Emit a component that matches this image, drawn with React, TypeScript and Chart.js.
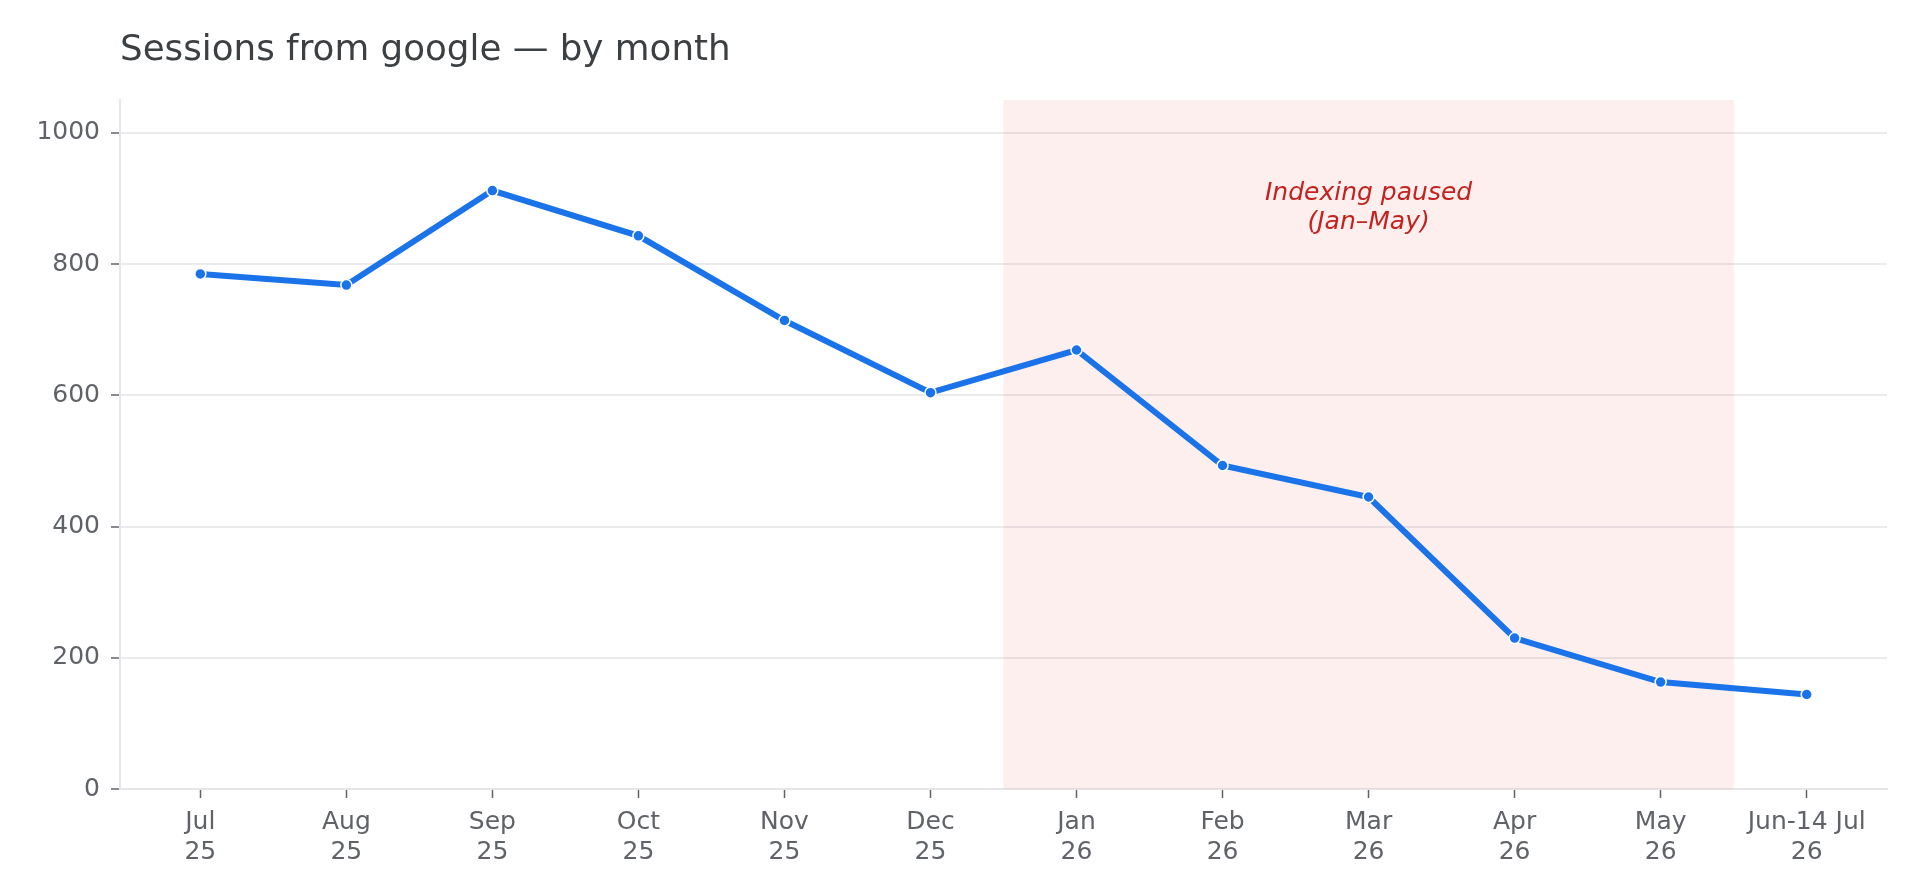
import Chart from "chart.js/auto";
import { useEffect, useRef } from "react";

const xLabels = [
  ["Jul", "25"],
  ["Aug", "25"],
  ["Sep", "25"],
  ["Oct", "25"],
  ["Nov", "25"],
  ["Dec", "25"],
  ["Jan", "26"],
  ["Feb", "26"],
  ["Mar", "26"],
  ["Apr", "26"],
  ["May", "26"],
  ["Jun-14 Jul", "26"],
];
const sessions = [785, 768, 912, 843, 714, 604, 669, 493, 445, 230, 163, 144];
const yTicks = [0, 200, 400, 600, 800, 1000];
const pausedFrom = 5.5;
const pausedTo = 10.5;
const pausedNote = ["Indexing paused", "(Jan–May)"];
const pausedNoteAt = { x: 8, y: [908, 863] };

const FONT = "'DejaVu Sans', sans-serif";

const pausedBand = {
  id: "pausedBand",
  beforeDatasetsDraw(chart: any) {
    const { ctx, chartArea, scales } = chart;
    const x0 = scales.x.getPixelForValue(pausedFrom);
    const x1 = scales.x.getPixelForValue(pausedTo);
    ctx.save();
    ctx.fillStyle = "rgba(217, 48, 37, 0.08)";
    ctx.fillRect(x0, chartArea.top, x1 - x0, chartArea.bottom - chartArea.top);
    ctx.fillStyle = "#c5221f";
    ctx.font = `italic 25px ${FONT}`;
    ctx.textAlign = "center";
    ctx.textBaseline = "middle";
    const cx = scales.x.getPixelForValue(pausedNoteAt.x);
    pausedNote.forEach((line, i) => {
      ctx.fillText(line, cx, scales.y.getPixelForValue(pausedNoteAt.y[i]));
    });
    ctx.restore();
  },
};

const titleText = {
  id: "titleText",
  afterDraw(chart: any) {
    const { ctx, chartArea } = chart;
    ctx.save();
    ctx.fillStyle = "#3c4043";
    ctx.font = `35.7px ${FONT}`;
    ctx.textAlign = "left";
    ctx.textBaseline = "alphabetic";
    ctx.fillText("Sessions from google — by month", chartArea.left, 60);
    ctx.restore();
  },
};

export default function App() {
  const chartRef = useRef<HTMLCanvasElement>(null);

  useEffect(() => {
    document.body.style.margin = "0";
    document.body.style.overflow = "hidden";

    const chart = new Chart(chartRef.current!, {
      type: "line",
      data: {
        datasets: [
          {
            label: "Sessions",
            data: sessions.map((v, i) => ({ x: i, y: v })),
            borderColor: "#1a73e8",
            borderWidth: 6,
            pointRadius: 5.5,
            pointBackgroundColor: "#1a73e8",
            pointBorderColor: "#ffffff",
            pointBorderWidth: 1.5,
            tension: 0,
          },
        ],
      },
      options: {
        responsive: false,
        animation: false,
        devicePixelRatio: 1,
        layout: { padding: { top: 100, right: 33, left: 0, bottom: 0 } },
        plugins: {
          legend: { display: false },
          tooltip: { enabled: false },
          title: { display: false },
        },
        scales: {
          x: {
            type: "linear",
            min: -0.55,
            max: 11.55,
            afterBuildTicks: (scale: any) => {
              scale.ticks = xLabels.map((_, i) => ({ value: i }));
            },
            afterFit: (scale: any) => {
              scale.height = 107;
            },
            grid: {
              drawOnChartArea: false,
              drawTicks: true,
              tickLength: 9,
              tickColor: "#5f6368",
              tickWidth: 1.5,
            },
            border: { display: true, color: "#e6e6e9", width: 2 },
            ticks: {
              autoSkip: false,
              maxRotation: 0,
              minRotation: 0,
              padding: 9,
              color: "#5f6368",
              font: { family: FONT, size: 25, lineHeight: 1.2 },
              callback: (value: any) => xLabels[value as number] ?? "",
            },
          },
          y: {
            min: 0,
            max: 1050,
            afterBuildTicks: (scale: any) => {
              scale.ticks = yTicks.map((v) => ({ value: v }));
            },
            afterFit: (scale: any) => {
              scale.width = 120;
            },
            grid: {
              color: "#ebebee",
              lineWidth: 2,
              tickLength: 9,
              tickColor: "#5f6368",
              tickWidth: 1.5,
            },
            border: { display: true, color: "#e6e6e9", width: 2 },
            ticks: {
              padding: 11,
              color: "#5f6368",
              font: { family: FONT, size: 25 },
              callback: (value: any) => String(value),
            },
          },
        },
      },
      plugins: [pausedBand, titleText],
    });

    return () => chart.destroy();
  }, []);

  return <canvas ref={chartRef} width={1920} height={896}></canvas>;
}
